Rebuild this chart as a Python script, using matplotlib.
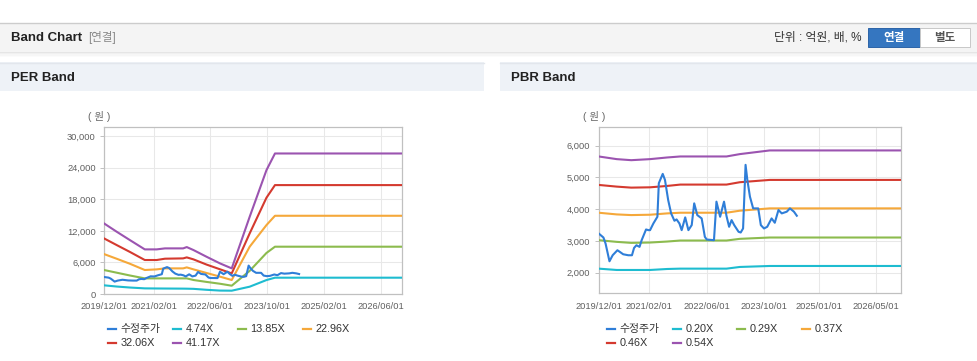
import matplotlib
matplotlib.use("Agg")
import matplotlib.pyplot as plt
import matplotlib.dates as mdates
from matplotlib.patches import Rectangle
from matplotlib.lines import Line2D
from matplotlib.ticker import FuncFormatter
import pandas as pd

plt.rcParams['font.family'] = ['Liberation Sans', 'Noto Sans CJK KR']

W, H = 978, 361

# ---------------- data ----------------
price_dates = ["2019-12-01", "2020-01-10", "2020-01-28", "2020-03-01", "2020-03-28", "2020-05-07",
               "2020-05-28", "2020-06-25", "2020-08-07", "2020-09-07", "2020-09-25", "2020-10-15",
               "2020-11-10", "2020-11-28", "2021-01-04", "2021-01-25", "2021-02-07", "2021-03-07",
               "2021-04-10", "2021-04-22", "2021-05-25", "2021-06-13", "2021-07-10", "2021-08-04",
               "2021-09-01", "2021-09-19", "2021-10-13", "2021-11-01", "2021-12-01", "2021-12-28",
               "2022-01-25", "2022-02-15", "2022-03-13", "2022-04-19", "2022-05-16", "2022-06-01",
               "2022-08-01", "2022-08-22", "2022-09-22", "2022-10-25", "2022-11-15", "2022-12-07",
               "2022-12-28", "2023-01-19", "2023-02-25", "2023-03-15", "2023-04-04", "2023-04-25",
               "2023-05-10", "2023-06-01", "2023-06-28", "2023-08-10", "2023-09-01", "2023-09-28",
               "2023-10-25", "2023-12-01", "2023-12-28", "2024-01-28", "2024-02-25", "2024-04-07",
               "2024-05-04", "2024-06-07", "2024-07-01"]
price_values = [3235, 3108, 2918, 2359, 2549, 2707,
                2654, 2580, 2549, 2549, 2781, 2865,
                2813, 3024, 3361, 3340, 3340, 3551,
                3762, 4818, 5113, 4923, 4290, 3868,
                3636, 3678, 3551, 3340, 3742, 3340,
                3499, 4185, 3815, 3710, 3129, 3045,
                3024, 4238, 3762, 4238, 3784, 3446,
                3657, 3499, 3288, 3266, 3393, 5398,
                4923, 4396, 4026, 4026, 3499, 3393,
                3446, 3710, 3573, 3974, 3868, 3921,
                4026, 3921, 3794]

per_dates = ["2019-12-01", "2020-03-19", "2020-07-10", "2020-11-15", "2021-02-25", "2021-05-07",
             "2021-10-10", "2021-11-10", "2022-01-07", "2022-04-28", "2022-08-22", "2022-12-01",
             "2023-05-04", "2023-09-25", "2023-12-07", "2026-12-01"]
per_labels = ["4.74X", "13.85X", "22.96X", "32.06X", "41.17X"]
per_474 = [1650, 1420, 1230, 1070, 1050, 1040, 1020, 1010, 980, 800, 650, 630, 1390, 2650, 3100, 3100]
per_1385 = [4560, 4050, 3520, 2970, 2970, 2970, 2970, 2970, 2660, 2300, 1950, 1580, 4400, 7800, 8990, 8990]
per_2296 = [7590, 6700, 5750, 4560, 4680, 4870, 4870, 5060, 4680, 4000, 3300, 2660, 8990, 13100, 14870, 14870]
per_3206 = [10570, 9300, 8000, 6460, 6460, 6710, 6770, 6960, 6580, 5600, 4700, 3920, 11520, 18300, 20700, 20700]
per_4117 = [13420, 11835, 10250, 8480, 8480, 8670, 8670, 8920, 8350, 7090, 5820, 4870, 14680, 23540, 26710, 26710]

pbr_dates = ["2019-12-01", "2020-05-01", "2020-09-01", "2021-02-07", "2021-07-01", "2021-10-20",
             "2022-11-15", "2023-03-07", "2023-11-15", "2026-12-01"]
pbr_labels = ["0.20X", "0.29X", "0.37X", "0.46X", "0.54X"]
pbr_020 = [2127, 2085, 2085, 2085, 2116, 2127, 2127, 2180, 2211, 2211]
pbr_029 = [3024, 2971, 2939, 2950, 2981, 3013, 3013, 3066, 3108, 3108]
pbr_037 = [3889, 3836, 3815, 3826, 3868, 3889, 3889, 3953, 4026, 4026]
pbr_046 = [4765, 4712, 4680, 4690, 4733, 4776, 4776, 4850, 4923, 4923]
pbr_054 = [5662, 5578, 5545, 5578, 5630, 5662, 5662, 5736, 5852, 5852]

price_label = "수정주가"
per_xticks = ["2019-12-01", "2021-02-01", "2022-06-01", "2023-10-01", "2025-02-01", "2026-06-01"]
pbr_xticks = ["2019-12-01", "2021-02-01", "2022-06-01", "2023-10-01", "2025-01-01", "2026-05-01"]
per_yticks = [0, 6000, 12000, 18000, 24000, 30000]
pbr_yticks = [2000, 3000, 4000, 5000, 6000]

colors = ["#2f7ed8", "#1ebcd0", "#8cbb4e", "#f5a83a", "#d43a2f", "#9b54b0"]

# ---------------- helpers ----------------
fig = plt.figure(figsize=(W / 100, H / 100), dpi=100)
fig.patch.set_facecolor("white")


def rect(x0, y0, x1, y1, fc, ec="none", lw=0, z=0):
    fig.add_artist(Rectangle((x0 / W, 1 - y1 / H), (x1 - x0) / W, (y1 - y0) / H,
                             transform=fig.transFigure, facecolor=fc, edgecolor=ec,
                             linewidth=lw, zorder=z))


def hline(x0, x1, y, color, lw=0.75):
    fig.add_artist(Line2D([x0 / W, x1 / W], [1 - y / H, 1 - y / H], transform=fig.transFigure,
                          color=color, linewidth=lw))


def text(x, y, s, **kw):
    fig.text(x / W, 1 - y / H, s, **kw)


# ---------------- page header ----------------
hline(0, W, 22.5, "#cccccc", 1.0)
rect(0, 23, W, 52, "#f4f4f4")
for i, a in enumerate([0.10, 0.06, 0.035, 0.015]):
    rect(0, 52 + i * 1.2, W, 53.2 + i * 1.2, (0, 0, 0, a))
text(11, 38, "Band Chart", fontsize=9.5, fontweight="bold", color="#222222", va="center")
text(88, 38, "[연결]", fontsize=8.3, color="#888888", va="center")
text(862, 38, "단위 : 억원, 배, %", fontsize=8.5, color="#333333", va="center", ha="right")
rect(868, 28, 920, 47, "#3576c0", ec="#2c64a8", lw=0.7)
text(894, 37.5, "연결", fontsize=8.3, fontweight="bold", color="white", va="center", ha="center")
rect(920, 28, 970, 47, "white", ec="#c8c8c8", lw=0.7)
text(945, 37.5, "별도", fontsize=8.3, fontweight="bold", color="#555555", va="center", ha="center")

# panel headers
rect(0, 62, 484, 91, "#eef2f7")
hline(0, 484, 62.5, "#e2e6ec", 1.0)
rect(500, 62, W, 91, "#eef2f7")
hline(500, W, 62.5, "#e2e6ec", 1.0)
text(11, 78, "PER Band", fontsize=9.5, fontweight="bold", color="#222222", va="center")
text(511, 78, "PBR Band", fontsize=9.5, fontweight="bold", color="#222222", va="center")


# ---------------- charts ----------------
def make_axes(left, right, top, bottom):
    ax = fig.add_axes([left / W, 1 - bottom / H, (right - left) / W, (bottom - top) / H])
    ax.set_facecolor("white")
    for s in ax.spines.values():
        s.set_color("#c0c0c0")
        s.set_linewidth(0.9)
    ax.grid(True, color="#e8e8e8", linewidth=0.75)
    ax.set_axisbelow(True)
    ax.tick_params(axis="y", length=3, width=0.7, color="#c0c0c0", labelsize=6.7,
                   labelcolor="#606060", pad=3)
    ax.tick_params(axis="x", length=0, labelsize=6.7, labelcolor="#606060", pad=6)
    ax.yaxis.set_major_formatter(FuncFormatter(lambda v, p: f"{int(v):,}"))
    ax.xaxis.set_major_formatter(mdates.DateFormatter("%Y/%m/%d"))
    ax.set_xlim(pd.Timestamp("2019-12-01"), pd.Timestamp("2026-12-01"))
    return ax


lw = 1.5

ax1 = make_axes(104, 402, 126.7, 294)
pd_ = pd.to_datetime(per_dates)
for vals, c in zip([per_474, per_1385, per_2296, per_3206, per_4117], colors[1:]):
    ax1.plot(pd_, vals, color=c, linewidth=lw, solid_joinstyle="round", zorder=3)
ax1.plot(pd.to_datetime(price_dates), price_values, color=colors[0], linewidth=lw, zorder=4)
ax1.set_ylim(0, 31800)
ax1.set_yticks(per_yticks)
ax1.set_xticks(pd.to_datetime(per_xticks))
text(99, 116, "( 원 )", fontsize=7.5, color="#666666", va="center", ha="center")

ax2 = make_axes(598.7, 901.3, 126.7, 293.3)
bd = pd.to_datetime(pbr_dates)
for vals, c in zip([pbr_020, pbr_029, pbr_037, pbr_046, pbr_054], colors[1:]):
    ax2.plot(bd, vals, color=c, linewidth=lw, solid_joinstyle="round", zorder=3)
ax2.plot(pd.to_datetime(price_dates), price_values, color=colors[0], linewidth=lw, zorder=4)
ax2.set_ylim(1350, 6600)
ax2.set_yticks(pbr_yticks)
ax2.set_xticks(pd.to_datetime(pbr_xticks))
text(594, 116, "( 원 )", fontsize=7.5, color="#666666", va="center", ha="center")


# ---------------- legends ----------------
def legend(xs, labels):
    rows = [329, 343]
    for i, (lab, c) in enumerate(zip(labels, colors)):
        r = rows[i // 4]
        x = xs[i % 4]
        fig.add_artist(Line2D([x / W, (x + 8) / W], [1 - r / H, 1 - r / H],
                              transform=fig.transFigure, color=c, linewidth=1.6))
        text(x + 12.5, r, lab, fontsize=7.8, color="#333333", va="center")


legend([108, 173, 238, 303], [price_label] + per_labels)
legend([607, 673, 737, 802], [price_label] + pbr_labels)

fig.savefig("out.png", dpi=100)
